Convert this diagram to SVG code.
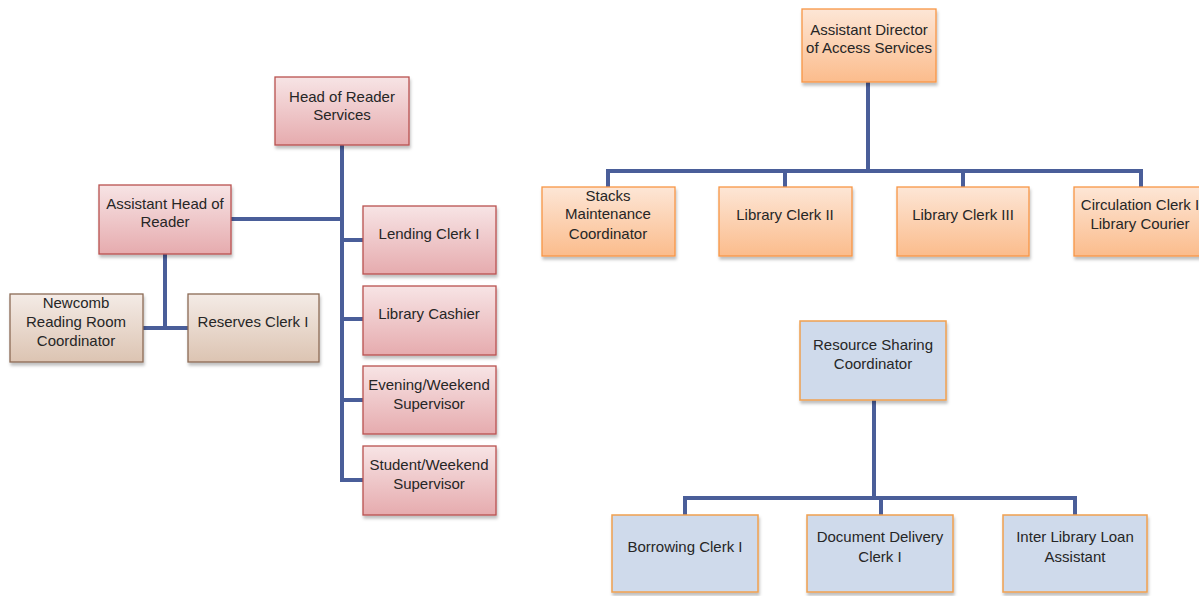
<svg xmlns="http://www.w3.org/2000/svg" width="1199" height="596" viewBox="0 0 1199 596">
<defs>
<linearGradient id="gPink" x1="0" y1="0" x2="0" y2="1"><stop offset="0" stop-color="#f7e4e5"/><stop offset="1" stop-color="#e6abae"/></linearGradient>
<linearGradient id="gTan" x1="0" y1="0" x2="0" y2="1"><stop offset="0" stop-color="#f4ebe6"/><stop offset="1" stop-color="#dcc4b2"/></linearGradient>
<linearGradient id="gOrange" x1="0" y1="0" x2="0" y2="1"><stop offset="0" stop-color="#fde6d6"/><stop offset="1" stop-color="#fbbc8c"/></linearGradient>
<filter id="sh" x="-10%" y="-10%" width="130%" height="140%"><feDropShadow dx="1" dy="3" stdDeviation="1.5" flood-color="#000" flood-opacity="0.25"/></filter>
<style>
.pink{fill:url(#gPink);stroke:#b9514f;stroke-width:1.3;filter:url(#sh)}
.tan{fill:url(#gTan);stroke:#8c6a55;stroke-width:1.3;filter:url(#sh)}
.orange{fill:url(#gOrange);stroke:#f79646;stroke-width:1.3;filter:url(#sh)}
.blue{fill:#cfdaeb;stroke:#f0a050;stroke-width:1.5;filter:url(#sh)}
text{font-family:"Liberation Sans",Arial,sans-serif;font-size:15px;fill:#262626;text-anchor:middle}
.ln{fill:none;stroke:#4a5e99;stroke-width:4}
</style>
</defs>
<rect width="1199" height="596" fill="#ffffff"/>
<g id="connectors">
<path class="ln" d="M342 145 V480 H363"/>
<path class="ln" d="M231 219 H342"/>
<path class="ln" d="M342 240 H363 M342 319 H363 M342 400 H363"/>
<path class="ln" d="M165 254 V328 M143 328 H188"/>
<path class="ln" d="M868 82 V171 M608 187 V171 H1141 V187 M785 171 V187 M963 171 V187"/>
<path class="ln" d="M874 400 V498 M685 515 V498 H1075 V515 M881 498 V515"/>
</g>
<g id="head-reader"><rect class="pink" x="275" y="77" width="134" height="68"/><text x="342" y="102">Head of Reader</text><text x="342" y="120">Services</text></g>
<g id="asst-head"><rect class="pink" x="99" y="185" width="132" height="69"/><text x="165" y="209">Assistant Head of</text><text x="165" y="227">Reader</text></g>
<g id="newcomb"><rect class="tan" x="10" y="294" width="133" height="68"/><text x="76" y="308">Newcomb</text><text x="76" y="327">Reading Room</text><text x="76" y="346">Coordinator</text></g>
<g id="reserves"><rect class="tan" x="188" y="294" width="131" height="68"/><text x="253" y="327">Reserves Clerk I</text></g>
<g id="lending"><rect class="pink" x="363" y="206" width="133" height="68"/><text x="429" y="239">Lending Clerk I</text></g>
<g id="cashier"><rect class="pink" x="363" y="286" width="133" height="69"/><text x="429" y="319">Library Cashier</text></g>
<g id="evening"><rect class="pink" x="363" y="366" width="133" height="68"/><text x="429" y="390">Evening/Weekend</text><text x="429" y="409">Supervisor</text></g>
<g id="student"><rect class="pink" x="363" y="446" width="133" height="69"/><text x="429" y="470">Student/Weekend</text><text x="429" y="489">Supervisor</text></g>
<g id="asst-director"><rect class="orange" x="802" y="9" width="134" height="73"/><text x="869" y="35">Assistant Director</text><text x="869" y="53">of Access Services</text></g>
<g id="stacks"><rect class="orange" x="542" y="187" width="133" height="69"/><text x="608" y="201">Stacks</text><text x="608" y="219">Maintenance</text><text x="608" y="239">Coordinator</text></g>
<g id="clerk2"><rect class="orange" x="719" y="187" width="133" height="69"/><text x="785" y="220">Library Clerk II</text></g>
<g id="clerk3"><rect class="orange" x="897" y="187" width="132" height="69"/><text x="963" y="220">Library Clerk III</text></g>
<g id="circulation"><rect class="orange" x="1074" y="187" width="133" height="69"/><text x="1140" y="210">Circulation Clerk I</text><text x="1140" y="229">Library Courier</text></g>
<g id="resource"><rect class="blue" x="800" y="321" width="146" height="79"/><text x="873" y="350">Resource Sharing</text><text x="873" y="369">Coordinator</text></g>
<g id="borrowing"><rect class="blue" x="612" y="515" width="146" height="77"/><text x="685" y="552">Borrowing Clerk I</text></g>
<g id="docdelivery"><rect class="blue" x="807" y="515" width="146" height="77"/><text x="880" y="542">Document Delivery</text><text x="880" y="562">Clerk I</text></g>
<g id="ill"><rect class="blue" x="1003" y="515" width="144" height="77"/><text x="1075" y="542">Inter Library Loan</text><text x="1075" y="562">Assistant</text></g>
</svg>
